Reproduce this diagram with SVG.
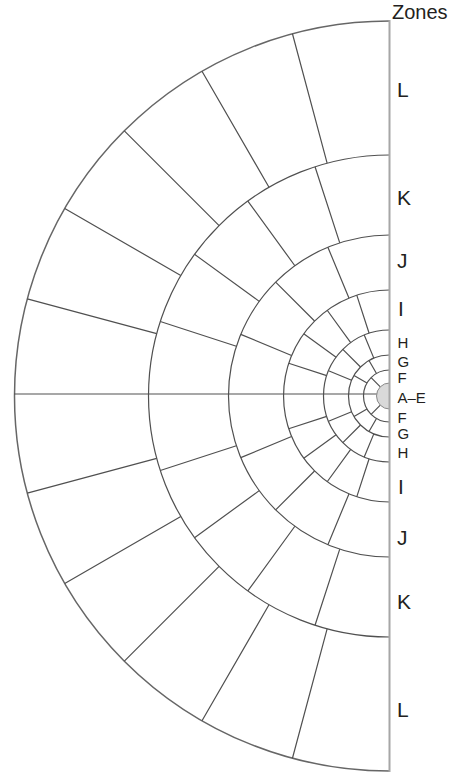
<svg xmlns="http://www.w3.org/2000/svg" width="455" height="774" viewBox="0 0 455 774">
<style>
.g{fill:none;stroke:#505050;stroke-width:1.2}
.o{fill:none;stroke:#666;stroke-width:1.5}
.ax{fill:none;stroke:#a6a6a6;stroke-width:2}
.lb{font-family:"Liberation Sans",Arial,sans-serif;font-size:21px;fill:#231f20}
.sm{font-family:"Liberation Sans",Arial,sans-serif;font-size:15px;fill:#231f20}
</style>
<rect width="455" height="774" fill="#fff"/>
<g id="connectors">
<g id="arcs">
<path class="o" d="M389.5,21 A375,375 0 0 0 389.5,771"/>
<path class="g" d="M389.5,155 A241,241 0 0 0 389.5,637"/>
<path class="g" d="M389.5,235 A161,161 0 0 0 389.5,557"/>
<path class="g" d="M389.5,290 A106,106 0 0 0 389.5,502"/>
<path class="g" d="M389.5,330 A66,66 0 0 0 389.5,462"/>
<path class="g" d="M389.5,355 A41,41 0 0 0 389.5,437"/>
<path class="g" d="M389.5,370 A26,26 0 0 0 389.5,422"/>
</g>
<line class="g" x1="14" y1="394" x2="377" y2="394"/>
<g id="ringL">
<path class="g" d="M327.125,163.212L292.443,33.778M269,187.288L202,71.24M219.087,225.587L124.335,130.835M180.788,275.5L64.74,208.5M156.712,333.625L27.278,298.943M156.712,458.375L27.278,493.057M180.788,516.5L64.74,583.5M219.087,566.413L124.335,661.165M269,604.712L202,720.76M327.125,628.788L292.443,758.222"/>
</g>
<g id="ringK">
<path class="g" d="M339.748,242.88L315.027,166.795M294.867,265.748L247.844,201.027M259.248,301.367L194.527,254.344M236.38,346.248L160.295,321.527M236.38,445.752L160.295,470.473M259.248,490.633L194.527,537.656M294.867,526.252L247.844,590.973M339.748,549.12L315.027,625.205"/>
</g>
<g id="ringJ">
<path class="g" d="M348.936,298.069L327.888,247.255M314.547,321.047L275.656,282.156M291.569,355.436L240.755,334.388M291.569,436.564L240.755,457.612M314.547,470.953L275.656,509.844M348.936,493.931L327.888,544.745"/>
</g>
<g id="ringI">
<path class="g" d="M369.105,333.23L356.744,295.188M350.706,342.605L327.195,310.244M336.105,357.206L303.744,333.695M326.73,375.605L288.688,363.244M326.73,416.395L288.688,428.756M336.105,434.794L303.744,458.305M350.706,449.395L327.195,481.756M369.105,458.77L356.744,496.812"/>
</g>
<g id="ringH">
<path class="g" d="M373.81,358.121L364.243,335.024M360.509,367.009L342.831,349.331M351.621,380.31L328.524,370.743M351.621,411.69L328.524,421.257M360.509,424.991L342.831,442.669M373.81,433.879L364.243,456.976"/>
</g>
<g id="ringG">
<path class="g" d="M376.5,373.483L369,360.493M366.983,383L353.993,375.5M366.983,409L353.993,416.5M376.5,418.517L369,431.507"/>
</g>
<g id="ringF">
<path class="g" d="M380.308,386.808L371.115,377.615M380.308,405.192L371.115,414.385"/>
</g>
</g>
<g id="core">
<path d="M389.5,383 A13,13 0 0 0 389.5,409 Z" fill="#d9d9d9" stroke="#8a8a8a" stroke-width="1"/>
</g>
<line class="ax" x1="389.5" y1="20" x2="389.5" y2="772"/>
<g id="labels">
<text class="lb" x="392" y="19" style="font-size:20px">Zones</text>
<text class="lb" x="397" y="96.5">L</text>
<text class="lb" x="397" y="204.5">K</text>
<text class="lb" x="397" y="267.5">J</text>
<text class="lb" x="398" y="315.5">I</text>
<text class="sm" x="397.5" y="348.3">H</text>
<text class="sm" x="397.5" y="366.7">G</text>
<text class="sm" x="397.5" y="383.3">F</text>
<text class="sm" x="397.5" y="402.7">A–E</text>
<text class="sm" x="397.5" y="422.7">F</text>
<text class="sm" x="397.5" y="439.3">G</text>
<text class="sm" x="397.5" y="457.7">H</text>
<text class="lb" x="398" y="493.5">I</text>
<text class="lb" x="397" y="544.5">J</text>
<text class="lb" x="397" y="608.5">K</text>
<text class="lb" x="397" y="716.5">L</text>
</g>
</svg>
